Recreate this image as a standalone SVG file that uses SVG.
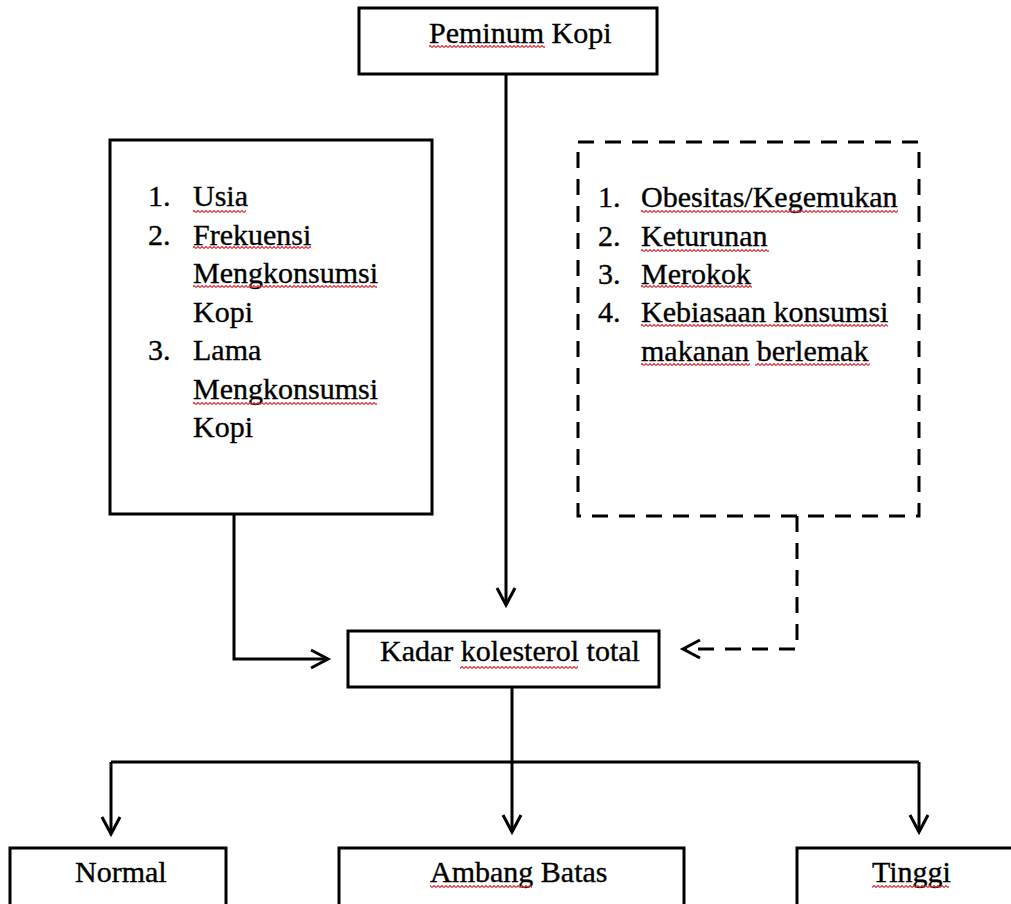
<svg xmlns="http://www.w3.org/2000/svg" width="1011" height="904" viewBox="0 0 1011 904">
  <style>
    .box { fill: #fff; stroke: #000; stroke-width: 3; }
    .dbox { fill: #fff; stroke: #000; stroke-width: 3; stroke-dasharray: 16 11; }
    .t { font-family: "Liberation Serif", "Times New Roman", serif; font-size: 30px; fill: #000; stroke: #000; stroke-width: 0.35; }
    .ln { fill: none; stroke: #000; stroke-width: 3; }
    .dl { fill: none; stroke: #000; stroke-width: 3; stroke-dasharray: 16 11; }
    .sq { fill: url(#squig); }
  </style>
  <defs>
    <marker id="arr" markerUnits="userSpaceOnUse" markerWidth="24" markerHeight="24" viewBox="-20 -12 24 24" refX="0" refY="0" orient="auto">
      <path d="M-17,-9 L0,0 L-17,9" fill="none" stroke="#000" stroke-width="3"/>
    </marker>
    <pattern id="squig" patternUnits="userSpaceOnUse" width="4" height="3">
      <path d="M0,2.5 L2,0.5 L4,2.5" fill="none" stroke="#e0303a" stroke-width="1.2"/>
    </pattern>
  </defs>

  <g id="connectors">
    <path class="ln" d="M506,74 V605" marker-end="url(#arr)"/>
    <path class="ln" d="M234,514 V659 H328" marker-end="url(#arr)"/>
    <path class="dl" d="M797,516 V649 H683" marker-end="url(#arr)"/>
    <path class="ln" d="M512,687 V832" marker-end="url(#arr)"/>
    <path class="ln" d="M111,762 H919"/>
    <path class="ln" d="M111,762 V834" marker-end="url(#arr)"/>
    <path class="ln" d="M919,762 V832" marker-end="url(#arr)"/>
  </g>

  <g id="peminum-kopi">
    <rect class="box" x="359" y="8" width="298" height="66"/>
    <text class="t" x="429" y="43">Peminum Kopi</text>
  </g>

  <g id="faktor-diteliti">
    <rect class="box" x="110" y="140" width="322" height="374"/>
    <text class="t" x="148" y="206">1.</text>
    <text class="t" x="193" y="206">Usia</text>
    <text class="t" x="148" y="244.5">2.</text>
    <text class="t" x="193" y="244.5">Frekuensi</text>
    <text class="t" x="193" y="283">Mengkonsumsi</text>
    <text class="t" x="193" y="321.5">Kopi</text>
    <text class="t" x="148" y="360">3.</text>
    <text class="t" x="193" y="360">Lama</text>
    <text class="t" x="193" y="398.5">Mengkonsumsi</text>
    <text class="t" x="193" y="437">Kopi</text>
  </g>

  <g id="faktor-tidak-diteliti">
    <rect class="dbox" x="578" y="142" width="341" height="374"/>
    <text class="t" x="598" y="207">1.</text>
    <text class="t" x="641" y="207">Obesitas/Kegemukan</text>
    <text class="t" x="598" y="245.5">2.</text>
    <text class="t" x="641" y="245.5">Keturunan</text>
    <text class="t" x="598" y="284">3.</text>
    <text class="t" x="641" y="284">Merokok</text>
    <text class="t" x="598" y="322">4.</text>
    <text class="t" x="641" y="322">Kebiasaan konsumsi</text>
    <text class="t" x="641" y="360.5">makanan berlemak</text>
  </g>

  <g id="kadar-kolesterol">
    <rect class="box" x="348" y="631" width="311" height="56"/>
    <text class="t" x="380" y="661">Kadar kolesterol total</text>
  </g>

  <g id="normal">
    <rect class="box" x="10" y="848" width="216" height="80"/>
    <text class="t" x="75" y="882">Normal</text>
  </g>

  <g id="ambang-batas">
    <rect class="box" x="339" y="848" width="345" height="80"/>
    <text class="t" x="430" y="882">Ambang Batas</text>
  </g>

  <g id="tinggi">
    <rect class="box" x="797" y="848" width="240" height="80"/>
    <text class="t" x="872" y="882">Tinggi</text>
  </g>

  <g id="spellcheck-underlines">
    <rect class="sq" x="429" y="45" width="116" height="3"/>
    <rect class="sq" x="193" y="210" width="53" height="3"/>
    <rect class="sq" x="193" y="246" width="118" height="3"/>
    <rect class="sq" x="193" y="285" width="184" height="3"/>
    <rect class="sq" x="193" y="402" width="184" height="3"/>
    <rect class="sq" x="641" y="210" width="257" height="3"/>
    <rect class="sq" x="641" y="249" width="128" height="3"/>
    <rect class="sq" x="641" y="285" width="111" height="3"/>
    <rect class="sq" x="641" y="324" width="247" height="3"/>
    <rect class="sq" x="641" y="363" width="109" height="3"/>
    <rect class="sq" x="755" y="363" width="115" height="3"/>
    <rect class="sq" x="460" y="666" width="118" height="3"/>
    <rect class="sq" x="430" y="885" width="102" height="3"/>
    <rect class="sq" x="872" y="885" width="77" height="3"/>
  </g>
</svg>
